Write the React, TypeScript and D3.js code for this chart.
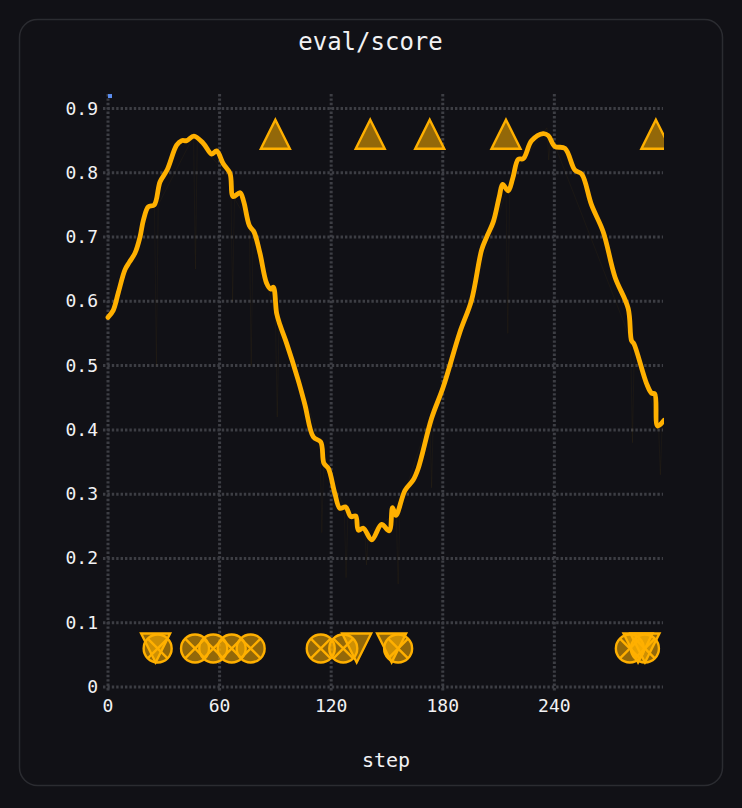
import React, { useEffect, useRef } from 'react';
import * as d3 from 'd3';

// smoothed eval/score
const steps = [0, 2.8, 5.5, 9.1, 11.5, 14.5, 17.2, 19, 21.7, 24.9, 28, 31.9, 36.9, 39.6, 42.3, 46.2, 51.2, 55.8, 58.4, 62, 65.6, 67.3, 71, 73, 76, 78.5, 81.7, 85.3, 87.5, 88.9, 90.7, 92.5, 96, 102.3, 105.9, 110.4, 114.4, 116.1, 118.5, 122, 124.7, 127.8, 130.6, 133.2, 134.6, 137.3, 141.8, 147.1, 151.2, 153, 154.8, 159.7, 164.1, 166.8, 174, 180.3, 189.2, 195.5, 200.9, 203.6, 207.2, 210.4, 212.2, 215.2, 217.6, 220.6, 223.3, 227.8, 234, 236.7, 240.3, 245.7, 251.1, 254.7, 260, 266.3, 272.6, 279.7, 281.5, 282.8, 289.6, 292.3, 294, 295.5, 299];
const scores = [0.575, 0.586, 0.613, 0.649, 0.661, 0.675, 0.7, 0.726, 0.747, 0.75, 0.786, 0.805, 0.843, 0.85, 0.85, 0.857, 0.846, 0.829, 0.834, 0.814, 0.799, 0.763, 0.769, 0.755, 0.718, 0.708, 0.675, 0.628, 0.619, 0.622, 0.581, 0.563, 0.535, 0.477, 0.439, 0.389, 0.381, 0.348, 0.34, 0.301, 0.278, 0.28, 0.265, 0.266, 0.244, 0.247, 0.229, 0.253, 0.243, 0.279, 0.267, 0.306, 0.322, 0.34, 0.418, 0.467, 0.552, 0.602, 0.68, 0.7, 0.724, 0.763, 0.782, 0.772, 0.791, 0.821, 0.822, 0.85, 0.861, 0.858, 0.841, 0.838, 0.804, 0.798, 0.75, 0.708, 0.638, 0.589, 0.539, 0.534, 0.472, 0.457, 0.456, 0.406, 0.415];

// faint raw trace behind the smoothed line
const rawSteps = [25, 26, 27, 46, 47, 48, 66, 67, 68, 76, 77, 78, 90, 91, 92, 114, 115, 116, 127, 128, 129, 138, 139, 140, 155, 156, 157, 173, 174, 175, 214, 215, 216, 236, 237, 238, 281, 282, 283, 296, 297, 298];
const rawScores = [0.75, 0.5, 0.75, 0.857, 0.65, 0.85, 0.79, 0.6, 0.76, 0.72, 0.5, 0.7, 0.58, 0.42, 0.57, 0.38, 0.24, 0.35, 0.28, 0.17, 0.27, 0.25, 0.19, 0.24, 0.27, 0.16, 0.28, 0.42, 0.31, 0.43, 0.77, 0.55, 0.79, 0.87, 0.82, 0.86, 0.54, 0.38, 0.53, 0.41, 0.33, 0.41];

const upSteps = [90, 141, 173, 214, 294.6];
const upScore = 0.86;
const downSteps = [25.6, 133.7, 152.5, 285, 288.7];
const crossSteps = [26.7, 46.8, 56.6, 66.5, 76.7, 114.4, 126.5, 156, 280.6, 288.7];
const lowScore = 0.06;

const xTicks = [0, 60, 120, 180, 240];
const yTicks = [0, 0.1, 0.2, 0.3, 0.4, 0.5, 0.6, 0.7, 0.8, 0.9];

const WIDTH = 742;
const HEIGHT = 808;
const AMBER = '#ffb000';
const MONO = '"DejaVu Sans Mono", monospace';

export default function App() {
  const svgRef = useRef<SVGSVGElement>(null);

  useEffect(() => {
    document.body.style.margin = '0';
    document.body.style.background = '#111116';
    if (!svgRef.current) return;

    const svg = d3.select(svgRef.current);
    svg.selectAll('*').remove();

    const x = d3.scaleLinear().domain([0, 299.5]).range([108, 665]);
    const y = d3.scaleLinear().domain([0, 0.9]).range([687, 108.5]);

    // card
    svg.append('rect')
      .attr('x', 19.5).attr('y', 19.5)
      .attr('width', 703).attr('height', 766)
      .attr('rx', 18)
      .attr('fill', '#111116')
      .attr('stroke', '#2b2c31')
      .attr('stroke-width', 1.5);

    svg.append('clipPath').attr('id', 'plot-clip')
      .append('rect').attr('x', 100).attr('y', 90).attr('width', 564).attr('height', 605);

    // grid
    const grid = svg.append('g')
      .attr('stroke', '#3d3e44')
      .attr('stroke-width', 3)
      .attr('stroke-dasharray', '2.4 2');

    grid.selectAll('.v').data(xTicks).enter().append('line')
      .attr('class', 'v')
      .attr('x1', d => x(d)).attr('x2', d => x(d))
      .attr('y1', 94).attr('y2', 692);

    grid.selectAll('.h').data(yTicks).enter().append('line')
      .attr('class', 'h')
      .attr('x1', 103).attr('x2', 663)
      .attr('y1', d => y(d)).attr('y2', d => y(d));

    // small origin mark at the top of the y axis
    svg.append('rect')
      .attr('x', x(0)).attr('y', y(0.9225))
      .attr('width', 4).attr('height', 4)
      .attr('fill', '#5b8def');

    const plot = svg.append('g').attr('clip-path', 'url(#plot-clip)');

    const line = d3.line<number>()
      .x((_, i) => x(steps[i]))
      .y(d => y(d))
      .curve(d3.curveCatmullRom.alpha(0.5));

    const rawLine = d3.line<number>()
      .x((_, i) => x(rawSteps[i]))
      .y(d => y(d));

    plot.append('path')
      .attr('d', rawLine(rawScores))
      .attr('fill', 'none')
      .attr('stroke', AMBER)
      .attr('stroke-width', 1)
      .attr('stroke-opacity', 0.04);

    plot.append('path')
      .attr('d', line(scores))
      .attr('fill', 'none')
      .attr('stroke', AMBER)
      .attr('stroke-width', 4.8)
      .attr('stroke-linejoin', 'round')
      .attr('stroke-linecap', 'round');

    // markers
    const markerStyle = (s: d3.Selection<any, any, any, any>) => s
      .attr('fill', AMBER)
      .attr('fill-opacity', 0.55)
      .attr('stroke', AMBER)
      .attr('stroke-width', 2.4);

    const triangle = (dir: number) => `M0,${-14.5 * dir}L14.5,${14.5 * dir}L-14.5,${14.5 * dir}Z`;

    plot.selectAll('.up').data(upSteps).enter().append('path')
      .attr('class', 'up')
      .attr('d', triangle(1))
      .attr('transform', d => `translate(${x(d)},${y(upScore)})`)
      .call(markerStyle);

    plot.selectAll('.down').data(downSteps).enter().append('path')
      .attr('class', 'down')
      .attr('d', triangle(-1))
      .attr('transform', d => `translate(${x(d)},${y(lowScore) - 0.5})`)
      .call(markerStyle);

    const cross = plot.selectAll('.cross').data(crossSteps).enter().append('g')
      .attr('class', 'cross')
      .attr('transform', d => `translate(${x(d)},${y(lowScore)})`);
    cross.append('circle').attr('r', 14).call(markerStyle);
    cross.append('path')
      .attr('d', 'M-9.9,-9.9L9.9,9.9M-9.9,9.9L9.9,-9.9')
      .attr('fill', 'none')
      .attr('stroke', AMBER)
      .attr('stroke-width', 2.4);

    // tick labels and titles
    const text = svg.append('g')
      .attr('fill', '#f2f2f4')
      .attr('font-family', MONO);

    text.selectAll('.xt').data(xTicks).enter().append('text')
      .attr('class', 'xt')
      .attr('x', d => x(d)).attr('y', 712)
      .attr('text-anchor', 'middle')
      .attr('font-size', 18)
      .text(d => d);

    text.selectAll('.yt').data(yTicks).enter().append('text')
      .attr('class', 'yt')
      .attr('x', 98).attr('y', d => y(d) + 6)
      .attr('text-anchor', 'end')
      .attr('font-size', 18)
      .text(d => (d === 0 ? '0' : d.toFixed(1)));

    text.append('text')
      .attr('x', 370.5).attr('y', 50)
      .attr('text-anchor', 'middle')
      .attr('font-size', 24)
      .text('eval/score');

    text.append('text')
      .attr('x', 386).attr('y', 767)
      .attr('text-anchor', 'middle')
      .attr('font-size', 20)
      .text('step');
  }, []);

  return <svg ref={svgRef} width={WIDTH} height={HEIGHT} style={{ display: 'block' }} />;
}
